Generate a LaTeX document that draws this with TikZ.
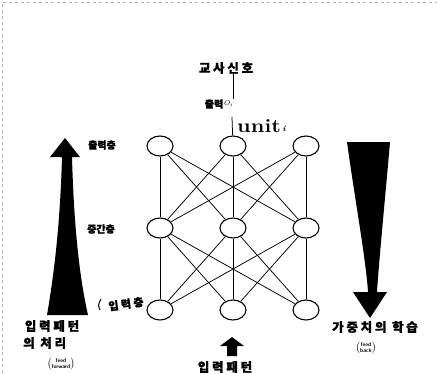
\documentclass[tikz,border=0pt]{standalone}
\usepackage{fontspec}
\newfontfamily\kr{Noto Sans CJK KR}[FakeBold=1.2]
\newfontfamily\krs{Noto Sans CJK KR}[LetterSpace=22,FakeBold=1.2]
\usetikzlibrary{shapes.geometric}
\begin{document}
\begin{tikzpicture}[x=1pt,y=-1pt,
  unitnode/.style={ellipse,draw,line width=1.1pt,minimum width=26pt,minimum height=20pt,inner sep=0pt,fill=white},
  link/.style={line width=0.75pt},
  lab/.style={font=\kr\bfseries\fontsize{10}{10}\selectfont, inner sep=0pt},
  big/.style={font=\krs\bfseries\fontsize{12.5}{12.5}\selectfont, inner sep=0pt},
  fb/.style={font=\sffamily\bfseries\fontsize{5.5}{6}\selectfont, inner sep=0pt}]
\useasboundingbox (0,0) rectangle (437,373);
% faint frame
\draw[gray!60, dashed, line width=0.6pt] (2,373) -- (2,2) -- (437,2);

% units
\foreach \c/\x in {1/160,2/233,3/306} {
  \node[unitnode] (t\c) at (\x,146) {};
  \node[unitnode] (m\c) at (\x,228) {};
  \node[unitnode] (b\c) at (\x,310) {};
}
\foreach \i in {1,2,3} \foreach \j in {1,2,3} {
  \draw[link] (t\i) -- (m\j);
  \draw[link] (m\i) -- (b\j);
}

% top labels
\node[big] (teach) at (226,68) {교사신호};
\node[lab] (out) at (214,104) {출력};
\node[inner sep=0.5pt, anchor=west, font=\fontsize{7}{7}\selectfont] (oi) at (out.east) {$O_i$};
\draw[link] (teach.south -| t2) -- (out.north -| t2);
\coordinate (ul) at (232,117);
\draw[link] (ul) -- (t2);
\node[anchor=base west, inner sep=0pt, font=\bfseries\fontsize{19}{19}\selectfont, xscale=1.15] (unit) at (237,132) {unit\raisebox{1pt}{\fontsize{8}{8}\selectfont\itshape\,i}};

% layer labels
\node[lab] (lo) at (102,145) {출력층};
\node[lab] (lm) at (101,229) {중간층};
\node[font=\krs\bfseries\fontsize{11}{11}\selectfont, inner sep=0pt, rotate=8] (li) at (126,304) {입력층};
\draw[line width=1pt] (100,310) .. controls (98,305) .. (101,299);

% left arrow (feed forward)
\fill (65,138) -- (80,157) -- (72,157) .. controls (74,230) and (80,280) .. (88,315)
  -- (47,315) .. controls (53,280) and (60,230) .. (62,157) -- (50,157) -- cycle;
\node[big] (lt1) at (52,326) {입력패턴};
\node[big, anchor=west] (lt2) at (23,343) {의 처리};
\node[fb] (ff) at (61,364) {$\left(\begin{tabular}{@{}c@{}}feed\\forward\end{tabular}\right)$};

% right arrow (feed back)
\fill (347,142) -- (390,142) .. controls (385,200) and (379,260) .. (377,292) -- (387,292)
  -- (370,318) -- (353,292) -- (368,292) .. controls (366,260) and (355,200) .. (347,142) -- cycle;
\node[big] (rt) at (375,327) {가중치의 학습};
\node[fb] (fbk) at (366,348) {$\left(\begin{tabular}{@{}c@{}}feed\\back\end{tabular}\right)$};

% bottom input
\fill (232,337) -- (244,346) -- (237,346) -- (237,356) -- (227,356) -- (227,346) -- (220,346) -- cycle;
\node[big] (inp) at (225,367) {입력패턴};
\end{tikzpicture}
\end{document}
